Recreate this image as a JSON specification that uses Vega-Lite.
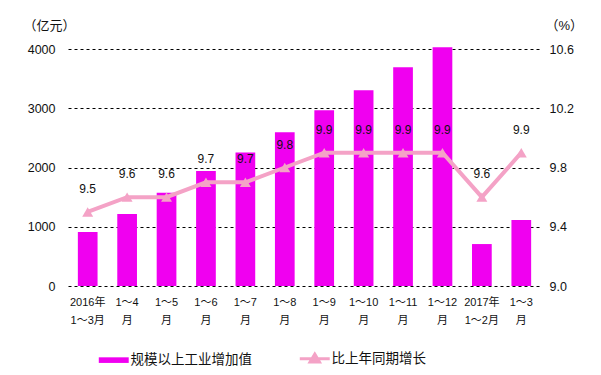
{
  "$schema": "https://vega.github.io/schema/vega-lite/v6.json",
  "width": 462,
  "height": 237,
  "autosize": {"type": "none"},
  "padding": {"left": 73, "top": 49, "right": 66, "bottom": 89},
  "background": "white",
  "config": {
    "view": {"stroke": null},
    "font": "Liberation Sans, Noto Sans CJK SC",
    "axis": {"labelColor": "#111", "titleColor": "#111", "labelFont": "Liberation Sans, Noto Sans CJK SC", "titleFont": "Liberation Sans, Noto Sans CJK SC"}
  },
  "data": {
    "values": [
      {"period": "2016年|1～3月", "value": 911, "growth": 9.5, "s1": "规模以上工业增加值", "s2": "比上年同期增长"},
      {"period": "1～4|月", "value": 1214, "growth": 9.6, "s1": "规模以上工业增加值", "s2": "比上年同期增长"},
      {"period": "1～5|月", "value": 1573, "growth": 9.6, "s1": "规模以上工业增加值", "s2": "比上年同期增长"},
      {"period": "1～6|月", "value": 1939, "growth": 9.7, "s1": "规模以上工业增加值", "s2": "比上年同期增长"},
      {"period": "1～7|月", "value": 2255, "growth": 9.7, "s1": "规模以上工业增加值", "s2": "比上年同期增长"},
      {"period": "1～8|月", "value": 2597, "growth": 9.8, "s1": "规模以上工业增加值", "s2": "比上年同期增长"},
      {"period": "1～9|月", "value": 2968, "growth": 9.9, "s1": "规模以上工业增加值", "s2": "比上年同期增长"},
      {"period": "1～10|月", "value": 3305, "growth": 9.9, "s1": "规模以上工业增加值", "s2": "比上年同期增长"},
      {"period": "1～11|月", "value": 3693, "growth": 9.9, "s1": "规模以上工业增加值", "s2": "比上年同期增长"},
      {"period": "1～12|月", "value": 4030, "growth": 9.9, "s1": "规模以上工业增加值", "s2": "比上年同期增长"},
      {"period": "2017年|1～2月", "value": 708, "growth": 9.6, "s1": "规模以上工业增加值", "s2": "比上年同期增长"},
      {"period": "1～3|月", "value": 1113, "growth": 9.9, "s1": "规模以上工业增加值", "s2": "比上年同期增长"}
    ]
  },
  "encoding": {
    "x": {
      "field": "period",
      "type": "nominal",
      "sort": null,
      "scale": {"range": [-5, 468], "paddingInner": 0.5, "paddingOuter": 0.25},
      "axis": {
        "title": null,
        "labelAngle": 0,
        "labelExpr": "split(datum.label, '|')",
        "labelFontSize": 11,
        "labelLineHeight": 18,
        "labelPadding": 10,
        "labelBaseline": "top",
        "domain": false,
        "ticks": false
      }
    }
  },
  "layer": [
    {
      "mark": {"type": "bar"},
      "encoding": {
        "y": {
          "field": "value",
          "type": "quantitative",
          "scale": {"domain": [0, 4000]},
          "axis": {
            "values": [0, 1000, 2000, 3000, 4000],
            "format": "d",
            "grid": true,
            "gridDash": [3, 3],
            "gridColor": "#000",
            "gridWidth": 1,
            "domain": false,
            "ticks": false,
            "labelPadding": 18,
            "labelFontSize": 12.5,
            "title": "（亿元）",
            "titleAngle": 0,
            "titleX": -50,
            "titleY": -24,
            "titleAlign": "left",
            "titleBaseline": "middle",
            "titleFontWeight": "normal",
            "titleFontSize": 13
          }
        },
        "color": {
          "field": "s1",
          "type": "nominal",
          "scale": {"domain": ["规模以上工业增加值", "比上年同期增长"], "range": ["#F000F0", "#F4A2C6"]},
          "legend": {
            "orient": "none",
            "legendX": 34,
            "legendY": 303,
            "direction": "horizontal",
            "title": null,
            "symbolSize": 1400,
            "labelFontSize": 13.5,
            "labelFont": "Noto Sans CJK SC",
            "labelColor": "#111",
            "labelOffset": 10,
            "columnPadding": 41,
            "encode": {
              "symbols": {
                "update": {
                  "shape": {"signal": "datum.value === '规模以上工业增加值' ? 'M-0.8,-0.15H0.8V0.15H-0.8Z' : 'M-0.8,0H0.8M0,-0.25L0.25,0.17L-0.25,0.17Z'"},
                  "fill": {"signal": "datum.value === '规模以上工业增加值' ? '#F000F0' : '#F4A2C6'"},
                  "stroke": {"signal": "datum.value === '规模以上工业增加值' ? '#F000F0' : '#F4A2C6'"},
                  "strokeWidth": {"signal": "datum.value === '规模以上工业增加值' ? 0 : 3"},
                  "opacity": {"value": 1},
                  "fillOpacity": {"value": 1},
                  "strokeOpacity": {"value": 1}
                }
              }
            }
          }
        }
      }
    },
    {
      "encoding": {
        "y": {
          "field": "growth",
          "type": "quantitative",
          "scale": {"domain": [9.0, 10.6], "zero": false},
          "axis": {
            "orient": "right",
            "values": [9.0, 9.4, 9.8, 10.2, 10.6],
            "format": ".1f",
            "grid": false,
            "domain": false,
            "ticks": false,
            "labelPadding": 14,
            "labelFontSize": 12.5,
            "title": "（%）",
            "titleAngle": 0,
            "titleX": 10,
            "titleY": -24,
            "titleAlign": "left",
            "titleBaseline": "middle",
            "titleFontWeight": "normal",
            "titleFontSize": 13
          }
        }
      },
      "layer": [
        {
          "mark": {"type": "line", "strokeWidth": 4},
          "encoding": {"color": {"field": "s2", "type": "nominal"}}
        },
        {
          "mark": {"type": "point", "shape": "triangle-up", "filled": true, "size": 120, "opacity": 1},
          "encoding": {"color": {"field": "s2", "type": "nominal"}}
        },
        {
          "mark": {"type": "text", "dy": -23, "fontSize": 12, "color": "#111"},
          "encoding": {"text": {"field": "growth", "type": "quantitative", "format": ".1f"}}
        }
      ]
    }
  ],
  "resolve": {"scale": {"y": "independent"}}
}
